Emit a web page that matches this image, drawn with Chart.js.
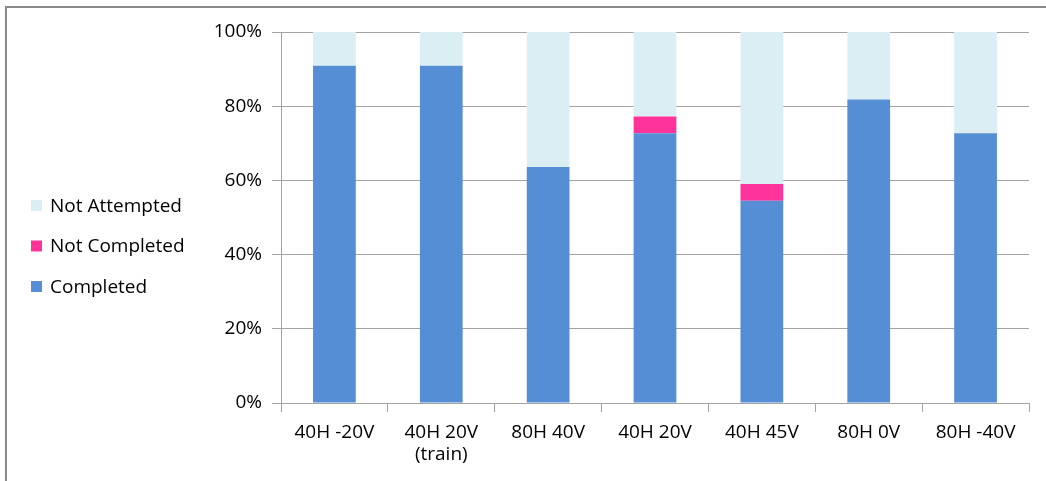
<!DOCTYPE html>
<html>
<head>
<meta charset="utf-8">
<title>Completion by target position</title>
<script src="https://cdn.jsdelivr.net/npm/chart.js@4.4.1/dist/chart.umd.min.js"></script>
<style>
  html, body { margin: 0; padding: 0; background: #ffffff; }
  #wrap { position: relative; width: 1046px; height: 481px; }
  canvas { display: block; }
</style>
</head>
<body>
<div id="wrap"><canvas id="chart" width="1046" height="481"></canvas></div>
<script>
// Target positions (horizontal / vertical offsets)
const categories = [
  '40H -20V',
  ['40H 20V', '(train)'],
  '80H 40V',
  '40H 20V',
  '40H 45V',
  '80H 0V',
  '80H -40V'
];

// Share of trials per outcome, in percent
const completed    = [90.9, 90.9, 63.6, 72.7, 54.5, 81.8, 72.7];
const notCompleted = [0,    0,    0,    4.5,  4.5,  0,    0];
const notAttempted = [9.1,  9.1,  36.4, 22.8, 41.0, 18.2, 27.3];

const yTicks = [0, 20, 40, 60, 80, 100];

const FONT = "'Open Sans', sans-serif";
const GRID = '#a3a3a3';

// Outer frame of the chart
const framePlugin = {
  id: 'frame',
  beforeDraw(chart) {
    const ctx = chart.ctx;
    ctx.save();
    ctx.fillStyle = '#ffffff';
    ctx.fillRect(0, 0, chart.width, chart.height);
    ctx.fillStyle = '#888888';
    ctx.fillRect(5, 6, chart.width - 5, 2);
    ctx.fillRect(5, 6, 2, chart.height - 6);
    ctx.restore();
  }
};

// Legend listed to the left of the plot, top entry = top of the stack
const sideLegend = {
  id: 'sideLegend',
  afterDraw(chart) {
    const ctx = chart.ctx;
    const sets = chart.data.datasets.slice().reverse();
    ctx.save();
    ctx.font = '19px ' + FONT;
    ctx.textBaseline = 'alphabetic';
    ctx.textAlign = 'left';
    sets.forEach((ds, i) => {
      const base = 211.5 + i * 40.5;
      ctx.fillStyle = ds.backgroundColor;
      ctx.fillRect(31, base - 11.5, 11, 11);
      ctx.fillStyle = '#000000';
      ctx.fillText(ds.label, 50, base);
    });
    ctx.restore();
  }
};

new Chart(document.getElementById('chart'), {
  type: 'bar',
  data: {
    labels: categories,
    datasets: [
      { label: 'Completed',     data: completed,    backgroundColor: '#558ED5' },
      { label: 'Not Completed', data: notCompleted, backgroundColor: '#FF3399' },
      { label: 'Not Attempted', data: notAttempted, backgroundColor: '#DBEEF4' }
    ]
  },
  options: {
    responsive: false,
    animation: false,
    devicePixelRatio: 1,
    layout: { padding: { left: 0, right: 17, top: 32, bottom: 0 } },
    datasets: { bar: { barPercentage: 0.4, categoryPercentage: 1.0, borderWidth: 0 } },
    plugins: {
      legend: { display: false },
      tooltip: { enabled: false }
    },
    scales: {
      x: {
        stacked: true,
        offset: true,
        grid: {
          offset: true,
          drawOnChartArea: false,
          drawTicks: true,
          tickLength: 9,
          color: GRID
        },
        border: { display: true, color: GRID, width: 1 },
        ticks: {
          color: '#000000',
          font: { family: FONT, size: 19, lineHeight: 1.15 },
          padding: 10,
          maxRotation: 0,
          autoSkip: false
        },
        afterFit(scale) { scale.height = 78; }
      },
      y: {
        stacked: true,
        min: 0,
        max: 100,
        afterBuildTicks(scale) { scale.ticks = yTicks.map(v => ({ value: v })); },
        grid: {
          color: GRID,
          drawTicks: true,
          tickLength: 9,
          lineWidth: 1
        },
        border: { display: true, color: GRID, width: 1 },
        ticks: {
          color: '#000000',
          font: { family: FONT, size: 19 },
          padding: 10,
          callback: v => v + '%'
        },
        afterFit(scale) { scale.width = 281; }
      }
    }
  },
  plugins: [framePlugin, sideLegend]
});
</script>
</body>
</html>
